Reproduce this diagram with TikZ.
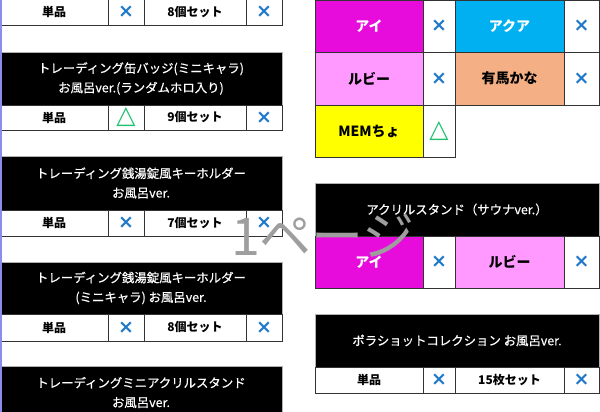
\documentclass[tikz,border=0pt]{standalone}
\usepackage{fontspec}
\usepackage{tikz}
\setmainfont{Noto Sans CJK JP}
\newfontfamily\headfont[FakeBold=0.5]{Noto Sans CJK JP}
\newfontfamily\symfont{DejaVu Sans}
\definecolor{ai}{HTML}{E80CDC}
\definecolor{aqua}{HTML}{00B0F0}
\definecolor{ruby}{HTML}{FF99FF}
\definecolor{kana}{HTML}{F4B084}
\definecolor{mem}{HTML}{FFFF00}
\definecolor{xblue}{HTML}{1F78C8}
\definecolor{tgreen}{HTML}{20C070}
\definecolor{pagebrk}{HTML}{8C8CF0}
\newcommand{\batsu}{{\color{xblue}\symfont\fontsize{19}{19}\selectfont ×}}
\newcommand{\sankaku}{{\color{tgreen}\symfont\fontsize{25}{25}\selectfont △}}
\newcommand{\buyrow}[9]{%
  \node[cell, colA, minimum height=#3, #4] (#1a) at (#2) {#5};
  \node[cell, colB, minimum height=#3] (#1b) at (#1a.north east) {#6};
  \node[cell, colC, minimum height=#3, #7] (#1c) at (#1b.north east) {#8};
  \node[cell, colD, minimum height=#3] (#1d) at (#1c.north east) {#9};}

\begin{document}
\begin{tikzpicture}[x=1pt, y=-1pt,
  cell/.style={draw=black!80, line width=0.9pt, anchor=north west, inner sep=0pt,
    outer sep=0pt, font=\bfseries\fontsize{12}{14}\selectfont},
  head/.style={fill=black, draw=black!30, line width=0.9pt, anchor=north west,
    inner sep=0pt, outer sep=0pt, text=white, align=center,
    font=\headfont\fontsize{12.4}{19.5}\selectfont},
  colA/.style={minimum width=108}, colB/.style={minimum width=36},
  colC/.style={minimum width=102}, colD/.style={minimum width=36},
  chara/.style={font=\bfseries\fontsize{14}{16}\selectfont}]
\useasboundingbox (0,0) rectangle (600,412);
\begin{scope}
\clip (0,0) rectangle (600,412);
\buyrow{r1}{0,-1}{26}{}{単品}{\batsu}{}{8個セット}{\batsu}
\node[head, minimum width=282, minimum height=53] (h2) at (0,52)
  {トレーディング缶バッジ(ミニキャラ)\\お風呂ver.(ランダムホロ入り)};
\buyrow{r2}{h2.south west}{25}{}{単品}{\sankaku}{}{9個セット}{\batsu}
\node[head, minimum width=282, minimum height=54] (h3) at (0,156)
  {トレーディング銭湯錠風キーホルダー\\お風呂ver.};
\buyrow{r3}{h3.south west}{26}{}{単品}{\batsu}{}{7個セット}{\batsu}
\node[head, minimum width=282, minimum height=52] (h4) at (0,262)
  {トレーディング銭湯錠風キーホルダー\\(ミニキャラ) お風呂ver.};
\buyrow{r4}{h4.south west}{27}{}{単品}{\batsu}{}{8個セット}{\batsu}
\node[head, minimum width=282, minimum height=53] (h5) at (0,366)
  {トレーディングミニアクリルスタンド\\お風呂ver.};

\begin{scope}[colA/.style={minimum width=108}, colB/.style={minimum width=32},
  colC/.style={minimum width=109}, colD/.style={minimum width=35}]
\buyrow{g1}{315,0}{52}{fill=ai, text=white, chara}{アイ}{\batsu}{fill=aqua, text=white, chara}{アクア}{\batsu}
\buyrow{g2}{g1a.south west}{53}{fill=ruby, chara}{ルビー}{\batsu}{fill=kana, chara}{有馬かな}{\batsu}
\node[cell, colA, minimum height=52, fill=mem, chara] (g3a) at (g2a.south west) {MEMちょ};
\node[cell, colB, minimum height=52] (g3b) at (g3a.north east) {\sankaku};

\node[head, minimum width=284, minimum height=53] (h6) at (315,183)
  {アクリルスタンド（サウナver.）};
\buyrow{r6}{h6.south west}{52}{fill=ai, text=white, chara}{アイ}{\batsu}{fill=ruby, chara}{ルビー}{\batsu}
\node[head, minimum width=284, minimum height=53] (h7) at (315,314)
  {ポラショットコレクション お風呂ver.};
\buyrow{r7}{h7.south west}{26}{}{単品}{\batsu}{}{15枚セット}{\batsu}
\end{scope}
\end{scope}

\node[text=black!38, font=\fontsize{52}{52}\selectfont] (pg) at (323,236) {1ページ};
\draw[pagebrk, line width=2pt] (1,0) -- (1,412);
\end{tikzpicture}
\end{document}
